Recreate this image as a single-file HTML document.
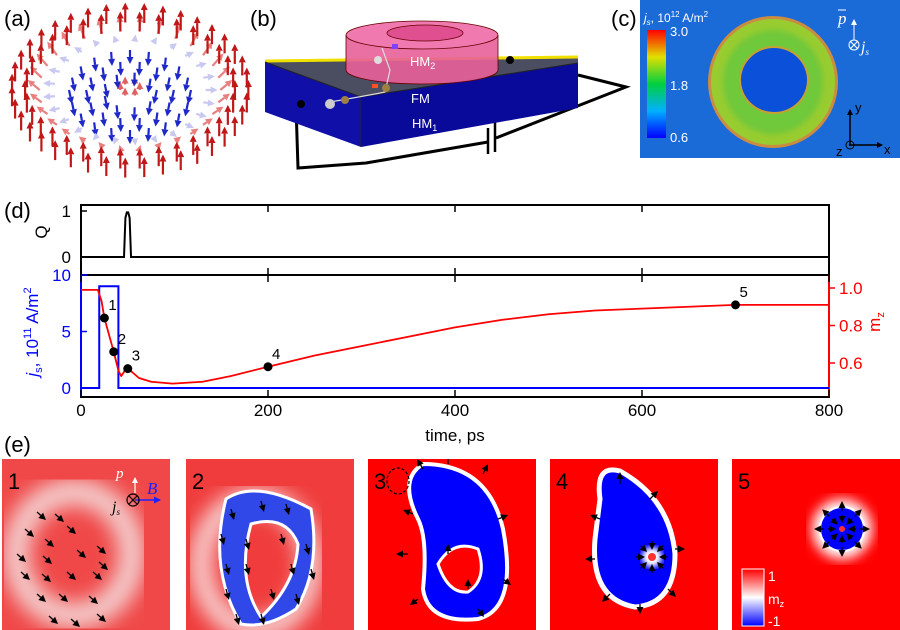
<!DOCTYPE html>
<html><head><meta charset="utf-8">
<style>
html,body{margin:0;padding:0;background:#fff;}
svg{display:block;font-family:"Liberation Sans",sans-serif;}
</style></head>
<body>
<svg id="fig" width="900" height="630" viewBox="0 0 900 630" xmlns="http://www.w3.org/2000/svg">
<defs>
  <filter id="blur3"><feGaussianBlur stdDeviation="3"/></filter>
  <filter id="blur6"><feGaussianBlur stdDeviation="6"/></filter>
  <filter id="blur10"><feGaussianBlur stdDeviation="10"/></filter>
  <linearGradient id="cbar" x1="0" y1="1" x2="0" y2="0">
    <stop offset="0" stop-color="#0000ff"/><stop offset="0.25" stop-color="#00b0ff"/>
    <stop offset="0.5" stop-color="#00d040"/><stop offset="0.75" stop-color="#e0e000"/>
    <stop offset="1" stop-color="#ff0000"/>
  </linearGradient>
  <linearGradient id="mzbar" x1="0" y1="1" x2="0" y2="0">
    <stop offset="0" stop-color="#0000ff"/><stop offset="0.5" stop-color="#ffffff"/><stop offset="1" stop-color="#ff0000"/>
  </linearGradient>
  <marker id="ah" markerWidth="6" markerHeight="6" refX="5" refY="3" orient="auto" markerUnits="userSpaceOnUse">
    <path d="M0,0 L6,3 L0,6 z" fill="#000"/>
  </marker>
  <marker id="ahw" markerWidth="6" markerHeight="6" refX="5" refY="3" orient="auto" markerUnits="userSpaceOnUse">
    <path d="M0,0 L6,3 L0,6 z" fill="#fff"/>
  </marker>
  <marker id="ahb" markerWidth="7" markerHeight="7" refX="6" refY="3.5" orient="auto" markerUnits="userSpaceOnUse">
    <path d="M0,0 L7,3.5 L0,7 z" fill="#2020ff"/>
  </marker>
</defs>

<!-- Panel (a) -->
<text x="4" y="26" font-size="22">(a)</text>
<g id="panelA"></g>

<!-- Panel (b) -->
<g>
  <text x="250" y="26" font-size="22">(b)</text>
  <polyline points="296,106 298,168 366,163 488,142" fill="none" stroke="#000" stroke-width="3"/>
  <polyline points="496,138 626,87 578,75" fill="none" stroke="#000" stroke-width="3"/>
  <line x1="488" y1="128" x2="488" y2="154" stroke="#000" stroke-width="2.5"/>
  <line x1="495" y1="104" x2="495" y2="152" stroke="#000" stroke-width="2.5"/>
  <polygon points="265,62 361,97 361,147 265,112" fill="#1010a8"/>
  <polygon points="361,97 578,63 578,108 361,147" fill="#0a0a9a"/>
  <polygon points="265,62 578,58 578,63 361,97" fill="#4a4e60"/>
  <polyline points="265,61 578,57" fill="none" stroke="#f0e000" stroke-width="3"/>
  <polyline points="265,62 361,97 578,63" fill="none" stroke="#222" stroke-width="1"/>
  <line x1="361" y1="97" x2="361" y2="147" stroke="#222" stroke-width="1"/>
  <circle cx="301" cy="104" r="4" fill="#000"/>
  <circle cx="510" cy="60" r="4" fill="#000"/>
  <!-- ring -->
  <path d="M346,35 L346,70 A76,14 0 0 0 498,70 L498,35 Z" fill="#e8609a" opacity="0.9"/>
  <ellipse cx="422" cy="35" rx="76" ry="14" fill="#f07ab0" stroke="#600" stroke-width="0.8"/>
  <ellipse cx="425" cy="33" rx="38" ry="8" fill="#e05090" stroke="#600" stroke-width="0.8"/>
  <path d="M346,35 L346,70 A76,14 0 0 0 498,70 L498,35" fill="none" stroke="#600" stroke-width="0.8"/>
  <text x="410" y="66" font-size="13" fill="#fff">HM<tspan font-size="9" dy="3">2</tspan></text>
  <text x="411" y="103" font-size="13" fill="#fff">FM</text>
  <text x="412" y="128" font-size="13" fill="#fff">HM<tspan font-size="9" dy="3">1</tspan></text>
  <path d="M330,102 Q370,95 385,92 L390,70 L382,48" fill="none" stroke="#ddd" stroke-width="1.2"/>
  <circle cx="330" cy="104" r="5" fill="#ccc"/><circle cx="345" cy="100" r="4" fill="#a08040"/>
  <circle cx="386" cy="88" r="4" fill="#a08040"/><circle cx="378" cy="60" r="4" fill="#ddd"/>
  <rect x="372" y="84" width="6" height="4" fill="#ff5020"/><rect x="392" y="44" width="6" height="5" fill="#8040ff"/>
</g>

<!-- Panel (c) -->
<g>
  <text x="611" y="26" font-size="22">(c)</text>
  <rect x="640" y="0" width="260" height="158" fill="#1a6ad8"/>
  <ellipse cx="773" cy="82" rx="65" ry="66" fill="#e09030" opacity="0.9"/>
  <ellipse cx="773" cy="82" rx="62" ry="63" fill="#98cc30"/>
  <ellipse cx="773" cy="82" rx="50" ry="52" fill="#70c83a" filter="url(#blur3)"/>
  <ellipse cx="774" cy="80" rx="35" ry="34" fill="#c8a030"/>
  <ellipse cx="774" cy="80" rx="33" ry="32" fill="#0a50d8"/>
  <rect x="647" y="30" width="19" height="108" fill="url(#cbar)"/>
  <text x="644" y="22" font-size="12" fill="#fff"><tspan font-style="italic">j<tspan font-size="8" dy="3">s</tspan></tspan><tspan dy="-3">, 10</tspan><tspan font-size="8" dy="-5">12</tspan><tspan dy="5"> A/m</tspan><tspan font-size="8" dy="-5">2</tspan></text>
  <text x="670" y="36" font-size="13" fill="#fff">3.0</text>
  <text x="670" y="90" font-size="13" fill="#fff">1.8</text>
  <text x="670" y="142" font-size="13" fill="#fff">0.6</text>
  <text x="838" y="24" font-size="17" font-family="Liberation Serif" font-style="italic" fill="#fff">p</text>
  <line x1="838" y1="10" x2="846" y2="10" stroke="#fff"/>
  <line x1="854" y1="40" x2="854" y2="20" stroke="#fff" marker-end="url(#ahw)"/>
  <circle cx="854" cy="45" r="5" fill="none" stroke="#fff"/>
  <path d="M850,41 L858,49 M858,41 L850,49" stroke="#fff"/>
  <text x="861" y="52" font-size="16" font-family="Liberation Serif" font-style="italic" fill="#fff">j<tspan font-size="9" dy="3">s</tspan></text>
  <line x1="850" y1="145" x2="850" y2="110" stroke="#000" stroke-width="1.5" marker-end="url(#ah)"/>
  <line x1="850" y1="145" x2="882" y2="145" stroke="#000" stroke-width="1.5" marker-end="url(#ah)"/>
  <circle cx="850" cy="145" r="4" fill="none" stroke="#000"/><circle cx="850" cy="145" r="1.2" fill="#000"/>
  <text x="855" y="112" font-size="13">y</text>
  <text x="884" y="154" font-size="13">x</text>
  <text x="836" y="156" font-size="13">z</text>
</g>

<!-- Panel (d) -->
<g id="panelD">
  <text x="4" y="218" font-size="22">(d)</text>
</g>

<!-- Panel (e) -->
<text x="4" y="452" font-size="22">(e)</text>
<g id="panelE"></g>
</svg>

<script>
// ---------- Panel (d) data ----------
const times = [0, 18, 22, 25, 30, 35, 40, 43, 47, 50, 55, 62, 75, 98, 130, 160, 200, 250, 300, 350, 400, 450, 500, 550, 600, 650, 700, 750, 800];
const mzValues = [0.99, 0.99, 0.93, 0.84, 0.75, 0.66, 0.56, 0.53, 0.56, 0.57, 0.55, 0.52, 0.50, 0.49, 0.50, 0.53, 0.58, 0.64, 0.69, 0.74, 0.79, 0.83, 0.86, 0.88, 0.89, 0.90, 0.91, 0.91, 0.91];
const jsTimes = [0, 19.5, 19.5, 40, 40, 800];
const jsValues = [0, 0, 9, 9, 0, 0];
const qTimes = [0, 46, 47.5, 49, 50.5, 52, 53.5, 800];
const qValues = [0, 0, 0.85, 0.97, 0.97, 0.85, 0, 0];
const markerTimes = [25, 35, 50, 200, 700];
const markerMz = [0.84, 0.66, 0.57, 0.58, 0.91];
const markerLabels = ["1", "2", "3", "4", "5"];
const xTicks = [0, 200, 400, 600, 800];
const jsTicks = [0, 5, 10];
const mzTicks = [0.6, 0.8, 1.0];
const qTicks = [0, 1];

const NS = "http://www.w3.org/2000/svg";
function mk(tag, attrs, parent) {
  const e = document.createElementNS(NS, tag);
  for (const k in attrs) e.setAttribute(k, attrs[k]);
  parent.appendChild(e);
  return e;
}
const X0 = 81, X1 = 829;
const xS = t => X0 + t / 800 * (X1 - X0);
const yQ = v => 257 - v * 46;
const yJ = v => 388 - v * 11.3;
const yM = v => 288 + (1 - v) * 187.5;

const D = document.getElementById('panelD');
let f1 = mk('rect', {x: X0, y: 205, width: X1 - X0, height: 70, fill: 'none', stroke: '#000', 'stroke-width': 2}, D);


let f2 = mk('rect', {x: X0, y: 275, width: X1 - X0, height: 122, fill: 'none', stroke: '#000', 'stroke-width': 2}, D);


mk('line', {x1: X0, y1: 275, x2: X0, y2: 397, stroke: '#0000ff', 'stroke-width': 2}, D);
mk('line', {x1: X1, y1: 275, x2: X1, y2: 397, stroke: '#ff0000', 'stroke-width': 2}, D);

xTicks.forEach(t => {
  const x = xS(t);
  mk('line', {x1: x, y1: 205, x2: x, y2: 212, stroke: '#000', 'stroke-width': 1.5}, D);
  mk('line', {x1: x, y1: 268, x2: x, y2: 282, stroke: '#000', 'stroke-width': 1.5}, D);
  mk('line', {x1: x, y1: 397, x2: x, y2: 390, stroke: '#000', 'stroke-width': 1.5}, D);
  const tx = mk('text', {x: x, y: 416, 'font-size': 17, 'text-anchor': 'middle'}, D);
  tx.textContent = t;
  
  
});
const xl = mk('text', {x: 455, y: 441, 'font-size': 17, 'text-anchor': 'middle'}, D);
xl.textContent = 'time, ps';



qTicks.forEach(v => {
  const y = yQ(v);
  mk('line', {x1: X0, y1: y, x2: X0 + 6, y2: y, stroke: '#000', 'stroke-width': 1.5}, D);
  const tx = mk('text', {x: X0 - 10, y: y + 6, 'font-size': 17, 'text-anchor': 'end'}, D);
  tx.textContent = v;
  
  
});
const ql = mk('text', {x: 47, y: 232, 'font-size': 17, 'text-anchor': 'middle', transform: 'rotate(-90 47 232)'}, D);
ql.textContent = 'Q';



jsTicks.forEach(v => {
  const y = yJ(v);
  mk('line', {x1: X0, y1: y, x2: X0 + 6, y2: y, stroke: '#0000ff', 'stroke-width': 1.5}, D);
  const tx = mk('text', {x: X0 - 10, y: y + 6, 'font-size': 17, 'text-anchor': 'end', fill: '#0000ff'}, D);
  tx.textContent = v;
  
  
});
mzTicks.forEach(v => {
  const y = yM(v);
  mk('line', {x1: X1, y1: y, x2: X1 + 6, y2: y, stroke: '#ff0000', 'stroke-width': 1.5}, D);
  const tx = mk('text', {x: X1 + 10, y: y + 6, 'font-size': 17, fill: '#ff0000'}, D);
  tx.textContent = v.toFixed(1);
  
  
});
const jl = mk('text', {x: 38, y: 332, 'font-size': 17, 'text-anchor': 'middle', fill: '#0000ff', transform: 'rotate(-90 38 332)'}, D);
jl.innerHTML = '<tspan font-style="italic">j</tspan><tspan font-size="11" dy="4">s</tspan><tspan dy="-4">, 10</tspan><tspan font-size="11" dy="-7">11</tspan><tspan dy="7"> A/m</tspan><tspan font-size="11" dy="-7">2</tspan>';


const ml = mk('text', {x: 880, y: 322, 'font-size': 17, 'text-anchor': 'middle', fill: '#ff0000', transform: 'rotate(-90 880 322)'}, D);
ml.innerHTML = 'm<tspan font-size="11" dy="4">z</tspan>';



const qLine = mk('polyline', {points: qTimes.map((t, i) => xS(t) + ',' + yQ(qValues[i])).join(' '), fill: 'none', stroke: '#000', 'stroke-width': 2}, D);


const jLine = mk('polyline', {points: jsTimes.map((t, i) => xS(t) + ',' + yJ(jsValues[i])).join(' '), fill: 'none', stroke: '#0000ff', 'stroke-width': 2}, D);


const mLine = mk('polyline', {points: times.map((t, i) => xS(t) + ',' + yM(mzValues[i])).join(' '), fill: 'none', stroke: '#ff0000', 'stroke-width': 1.8, 'stroke-linejoin': 'round'}, D);


markerTimes.forEach((t, i) => {
  const c = mk('circle', {cx: xS(t), cy: yM(markerMz[i]), r: 4.5, fill: '#000'}, D);
  
  
  const tx = mk('text', {x: xS(t) + 4, y: yM(markerMz[i]) - 8, 'font-size': 15}, D);
  tx.textContent = markerLabels[i];
  
  
});

// ---------- Panel (a): arrow dome ----------
const A = document.getElementById('panelA');
function arrow3d(parent, x, y, dx, dy, col, w) {
  const len = Math.hypot(dx, dy) || 1;
  const ux = dx / len, uy = dy / len;
  const hx = x + dx, hy = y + dy;
  const bx = hx - ux * 7, by = hy - uy * 7;
  mk('line', {x1: x, y1: y, x2: bx, y2: by, stroke: col, 'stroke-width': w}, parent);
  mk('polygon', {points: `${hx},${hy} ${bx - uy * 3.5},${by + ux * 3.5} ${bx + uy * 3.5},${by - ux * 3.5}`, fill: col}, parent);
}
const rings = [0.08, 0.22, 0.36, 0.5, 0.62, 0.74, 0.86, 0.97];
rings.forEach((r, ri) => {
  const n = Math.max(6, Math.round(r * 40));
  for (let k = 0; k < n; k++) {
    const th = k / n * 2 * Math.PI;
    const x = 130 + r * 122 * Math.cos(th);
    const y = 90 + r * 80 * Math.sin(th);
    let col, dx, dy;
    if (r > 0.8) { col = '#c01818'; dx = 0; dy = -20; }
    else if (r > 0.68) { col = '#e88080'; dx = 12 * Math.cos(th); dy = -10 + 6 * Math.sin(th); }
    else if (r > 0.56) { col = '#c8c8f0'; dx = 12 * Math.cos(th); dy = 6 * Math.sin(th); }
    else if (r > 0.15) { col = '#1e28c8'; dx = -3 * Math.cos(th); dy = 14; }
    else { col = '#e06060'; dx = 0; dy = -8; }
    arrow3d(A, x, y + (r > 0.8 ? 10 : 0), dx, dy, col, 2.2);
  }
});

// ---------- Panel (e) ----------
const E = document.getElementById('panelE');
const panels = [
  {x: 2, bg: '#f04848'}, {x: 186, bg: '#f03c3c'}, {x: 368, bg: '#ff0000'},
  {x: 550, bg: '#ff0000'}, {x: 732, bg: '#ff0000'}
];
const PY = 459, PW = 168, PH = 171;
panels.forEach((p, i) => {
  const g = mk('g', {}, E);
  
  
  mk('rect', {x: p.x, y: PY, width: PW, height: PH, fill: p.bg}, g);
  const cl = mk('clipPath', {id: 'cp' + i}, g);
  mk('rect', {x: p.x, y: PY, width: PW, height: PH}, cl);
  const inner = mk('g', {'clip-path': `url(#cp${i})`}, g);
  const ox = p.x, oy = PY;
  if (i === 0) {
    mk('ellipse', {cx: ox + 72, cy: oy + 95, rx: 58, ry: 62, fill: 'none', stroke: '#f4d0d0', 'stroke-width': 26, filter: 'url(#blur10)'}, inner);
    const pts = [[40,58],[58,60],[28,75],[48,85],[70,72],[20,100],[46,102],[80,96],[100,92],[24,118],[45,120],[70,118],[96,118],[102,108],[40,140],[62,140],[92,142],[52,162],[74,165],[100,160]];
    pts.forEach(q => arrow3d(inner, ox + q[0] - 5, oy + q[1] - 5, 9, 8, '#000', 1.3));
  } else if (i === 1) {
    mk('ellipse', {cx: ox + 70, cy: oy + 105, rx: 55, ry: 65, fill: 'none', stroke: '#f8d8d8', 'stroke-width': 22, filter: 'url(#blur10)'}, inner);
    mk('path', {d: `M${ox+40},${oy+40} Q${ox+70},${oy+20} ${ox+125},${oy+50} Q${ox+135},${oy+110} ${ox+110},${oy+150} Q${ox+80},${oy+170} ${ox+55},${oy+165} Q${ox+22},${oy+110} ${ox+40},${oy+40} Z M${ox+65},${oy+65} Q${ox+100},${oy+55} ${ox+112},${oy+85} Q${ox+110},${oy+125} ${ox+75},${oy+158} Q${ox+50},${oy+120} ${ox+65},${oy+65} Z`, fill: '#3048e8', 'fill-rule': 'evenodd', stroke: '#fff', 'stroke-width': 3}, inner);
    const pts = [[45,50],[75,42],[100,45],[35,75],[60,80],[95,75],[120,85],[40,105],[60,105],[105,105],[125,110],[40,130],[85,130],[110,135],[50,155],[75,155]];
    pts.forEach(q => arrow3d(inner, ox + q[0], oy + q[1], 3, 11, '#000', 1.3));
  } else if (i === 2) {
    mk('path', {d: `M${ox+55},${oy+5} Q${ox+120},${oy+5} ${ox+135},${oy+70} Q${ox+150},${oy+150} ${ox+110},${oy+160} Q${ox+60},${oy+165} ${ox+55},${oy+130} Q${ox+60},${oy+80} ${ox+50},${oy+60} Q${ox+30},${oy+20} ${ox+55},${oy+5} Z`, fill: '#0000ff', stroke: '#fff', 'stroke-width': 4}, inner);
    mk('path', {d: `M${ox+70},${oy+105} Q${ox+85},${oy+80} ${ox+110},${oy+90} Q${ox+120},${oy+120} ${ox+100},${oy+133} Q${ox+80},${oy+135} ${ox+70},${oy+105} Z`, fill: '#ff0000', stroke: '#fff', 'stroke-width': 3}, inner);
    mk('ellipse', {cx: ox + 30, cy: oy + 22, rx: 11, ry: 13, fill: 'none', stroke: '#000', 'stroke-width': 1.2, 'stroke-dasharray': '3,2'}, inner);
    const pts = [[55,10,-6,-10],[80,5,0,-12],[115,15,5,-10],[45,55,-10,-4],[130,60,10,-4],[40,95,-12,0],[135,120,8,6],[50,140,-8,6],[110,150,6,8],[80,95,0,-10],[100,130,0,-10]];
    pts.forEach(q => arrow3d(inner, ox + q[0], oy + q[1], q[2], q[3], '#000', 1.3));
  } else if (i === 3) {
    mk('path', {d: `M${ox+50},${oy+40} Q${ox+45},${oy+5} ${ox+70},${oy+12} Q${ox+120},${oy+40} ${ox+125},${oy+95} Q${ox+125},${oy+145} ${ox+85},${oy+148} Q${ox+40},${oy+140} ${ox+45},${oy+80} Z`, fill: '#0000ff', stroke: '#fff', 'stroke-width': 5}, inner);
    mk('circle', {cx: ox + 102, cy: oy + 98, r: 10, fill: '#ffffff', filter: 'url(#blur3)'}, inner);
    mk('circle', {cx: ox + 102, cy: oy + 98, r: 4, fill: '#ff3030'}, inner);
    const pts = [[70,25,0,-12],[100,40,8,-8],[50,60,-10,-4],[125,90,10,0],[45,100,-10,0],[60,135,-8,8],[90,145,0,10],[118,130,8,8]];
    pts.forEach(q => arrow3d(inner, ox + q[0], oy + q[1], q[2], q[3], '#000', 1.3));
    for (let k = 0; k < 8; k++) { const a = k * Math.PI / 4; arrow3d(inner, ox + 102 + 16 * Math.cos(a), oy + 98 + 16 * Math.sin(a), -9 * Math.cos(a), -9 * Math.sin(a), '#000', 1.2); }
  } else {
    mk('circle', {cx: ox + 110, cy: oy + 70, r: 30, fill: '#fff', filter: 'url(#blur6)'}, inner);
    mk('circle', {cx: ox + 110, cy: oy + 70, r: 22, fill: '#0000ff', stroke: '#fff', 'stroke-width': 2}, inner);
    mk('circle', {cx: ox + 110, cy: oy + 70, r: 3, fill: '#ff3030'}, inner);
    for (let k = 0; k < 8; k++) { const a = k * Math.PI / 4; arrow3d(inner, ox + 110 + 18 * Math.cos(a), oy + 70 + 18 * Math.sin(a), 10 * Math.cos(a), 10 * Math.sin(a), '#000', 1.2); arrow3d(inner, ox + 110 + 14 * Math.cos(a), oy + 70 + 14 * Math.sin(a), -8 * Math.cos(a), -8 * Math.sin(a), '#000', 1.2); }
    const cb = mk('rect', {x: ox + 10, y: oy + 110, width: 22, height: 57, fill: 'url(#mzbar)', stroke: '#fff', 'stroke-width': 1}, g);
    
    
    const t1 = mk('text', {x: ox + 36, y: oy + 122, 'font-size': 14, fill: '#fff'}, g); t1.textContent = '1';
    const t2 = mk('text', {x: ox + 36, y: oy + 167, 'font-size': 14, fill: '#fff'}, g); t2.textContent = '-1';
    const t3 = mk('text', {x: ox + 36, y: oy + 145, 'font-size': 14, fill: '#fff'}, g); t3.innerHTML = 'm<tspan font-size="9" dy="3">z</tspan>';
  }
  const lb = mk('text', {x: p.x + 6, y: PY + 30, 'font-size': 22, fill: '#000'}, g);
  lb.textContent = String(i + 1);
  
  
});
const g1 = E.firstChild;
mk('line', {x1: 135, y1: 493, x2: 135, y2: 478, stroke: '#fff', 'stroke-width': 1.2, 'marker-end': 'url(#ahw)'}, g1);
mk('line', {x1: 135, y1: 500, x2: 160, y2: 500, stroke: '#2020ff', 'stroke-width': 1.5, 'marker-end': 'url(#ahb)'}, g1);
mk('circle', {cx: 133, cy: 500, r: 6, fill: 'none', stroke: '#000', 'stroke-width': 1.2}, g1);
mk('path', {d: 'M129,496 L137,504 M137,496 L129,504', stroke: '#000', 'stroke-width': 1.2}, g1);
const pv = mk('text', {x: 116, y: 478, 'font-size': 15, 'font-family': 'Liberation Serif', 'font-style': 'italic', fill: '#fff'}, g1); pv.textContent = 'p';
const bv = mk('text', {x: 147, y: 494, 'font-size': 17, 'font-family': 'Liberation Serif', 'font-style': 'italic', fill: '#2020ff'}, g1); bv.textContent = 'B';
const jv = mk('text', {x: 112, y: 512, 'font-size': 16, 'font-family': 'Liberation Serif', 'font-style': 'italic', fill: '#000'}, g1); jv.innerHTML = 'j<tspan font-size="9" dy="3">s</tspan>';
</script>
</body></html>
